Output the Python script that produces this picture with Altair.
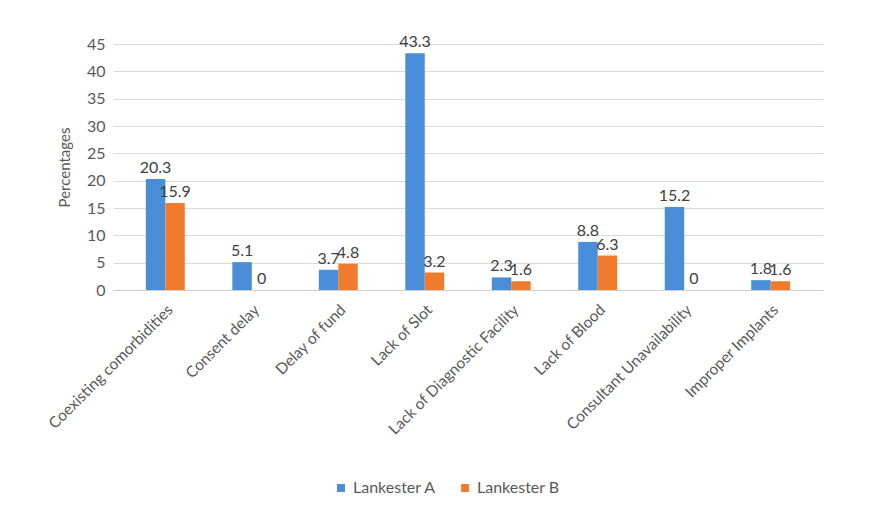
import altair as alt
import pandas as pd

categories = ["Coexisting comorbidities", "Consent delay", "Delay of fund", "Lack of Slot",
              "Lack of Diagnostic Facility", "Lack of Blood", "Consultant Unavailability",
              "Improper Implants"]
lankester_a = [20.3, 5.1, 3.7, 43.3, 2.3, 8.8, 15.2, 1.8]
lankester_b = [15.9, 0, 4.8, 3.2, 1.6, 6.3, 0, 1.6]
series = ["Lankester A", "Lankester B"]
colors = ["#4A8EDA", "#F07B2C"]
y_ticks = [0, 5, 10, 15, 20, 25, 30, 35, 40, 45]

rows = []
for i, c in enumerate(categories):
    rows.append({"cat": c, "series": series[0], "value": lankester_a[i]})
    rows.append({"cat": c, "series": series[1], "value": lankester_b[i]})
df = pd.DataFrame(rows)

font = "Lato"
grey = "#595959"

x = alt.X("cat:N", sort=categories, title=None,
          scale=alt.Scale(paddingInner=0.55, paddingOuter=0.38),
          axis=alt.Axis(labelAngle=-45, labelFontSize=15.5, labelColor=grey, labelFont=font,
                        ticks=False, domain=True, domainColor="#cfcfcf", labelPadding=12,
                        labelLimit=300))
y_axis = alt.Axis(values=y_ticks, labelFontSize=16, labelColor=grey, labelFont=font,
                  ticks=False, domain=False, gridColor="#d9d9d9", labelPadding=8,
                  titleFontSize=15, titleColor=grey, titleFont=font, titleFontWeight="normal",
                  titlePadding=14)
y = alt.Y("value:Q", title="Percentages",
          scale=alt.Scale(domain=[0, 45], nice=False), axis=y_axis)
color = alt.Color("series:N", sort=series,
                  scale=alt.Scale(domain=series, range=colors),
                  legend=alt.Legend(title=None, orient="none", legendX=220, legendY=436,
                                    direction="horizontal", symbolType="square", symbolSize=64,
                                    labelFontSize=16, labelColor=grey, labelFont=font,
                                    columnPadding=20))

base = alt.Chart(df).encode(x=x, xOffset=alt.XOffset("series:N", sort=series), y=y)

bars = base.mark_bar(stroke=None).encode(color=color)
labels = base.mark_text(dy=-11, fontSize=16, color="#404040", font=font).encode(
    text=alt.Text("value:Q"))

chart = (bars + labels).properties(
    width=710, height=246,
    autosize=alt.AutoSizeParams(type="none"),
    padding={"left": 113, "top": 44, "right": 53, "bottom": 227},
    background="white",
).configure_view(stroke=None)

chart.save("out.html", embed_options={"renderer": "svg", "actions": False})
